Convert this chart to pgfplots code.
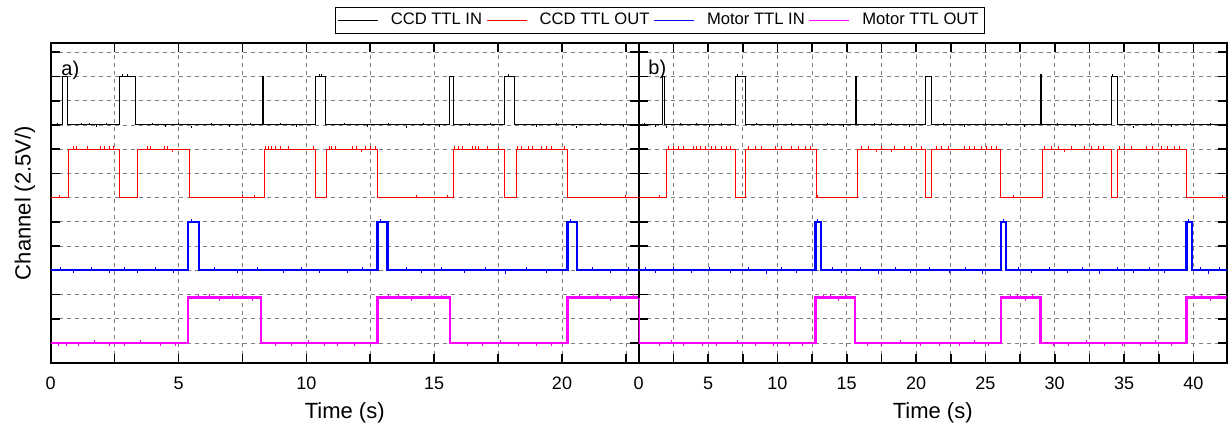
\documentclass[border=0pt]{standalone}
\usepackage{fontspec}
\setmainfont{Liberation Sans}
\usepackage{pgfplots}
\pgfplotsset{compat=1.18}
\definecolor{mg}{RGB}{255,0,255}
\definecolor{bl}{RGB}{0,0,255}
\definecolor{rd}{RGB}{255,0,0}
\begin{document}
\begin{tikzpicture}
\pgfplotsset{
  panel/.style={
    scale only axis, width=294pt, height=159.7pt,
    ymin=0.185, ymax=13.37,
    ytick={1,...,13}, yticklabels={},
    xtick distance=5, minor x tick num=1,
    grid=both,
    major grid style={gray, line width=0.4pt, dash pattern=on 2pt off 2pt},
    minor grid style={gray, line width=0.4pt, dash pattern=on 2pt off 2pt},
    tick align=inside,
    major tick length=4.5pt, minor tick length=4.5pt,
    every tick/.style={black, line width=0.8pt},
    axis line style={line width=1pt},
    ticklabel style={font=\fontsize{9}{10}\selectfont},
    /pgf/number format/assume math mode=true,
    xticklabel style={yshift=-3.5pt},
    xlabel={Time (s)},
    label style={font=\fontsize{11}{13}\selectfont},
    xlabel style={at={(axis description cs:0.5,-0.157)},anchor=center},
  },
  blk/.style={black, line width=0.5pt},
  rdl/.style={rd, line width=0.5pt},
  bll/.style={bl, line width=1.2pt},
  mgl/.style={mg, line width=1.2pt},
  spk/.style={only marks, mark=|, mark size=0.75pt, mark options={line width=0.5pt}},
}
% ---------------- left panel a) ----------------
\begin{axis}[panel, name=L, xmin=0, xmax=23,
  ylabel={Channel (2.5V/)},
  ylabel style={at={(axis description cs:-0.0437,0.5)},anchor=center},
  legend columns=4,
  legend image code/.code={\draw[#1] (0pt,0pt) -- (20pt,0pt);},
  legend style={at={(0.483,1.114)}, anchor=north west,
    font=\fontsize{8.3}{10}\selectfont, draw=black, line width=0.5pt,
    /tikz/every odd column/.append style={column sep=4.3pt},
    inner xsep=1pt, inner ysep=1pt},
]
\addlegendimage{draw=black, line width=0.5pt}\addlegendentry{CCD TTL IN}
\addlegendimage{draw=rd, line width=0.5pt}\addlegendentry{CCD TTL OUT}
\addlegendimage{draw=bl, line width=0.5pt}\addlegendentry{Motor TTL IN}
\addlegendimage{draw=mg, line width=0.5pt}\addlegendentry{Motor TTL OUT}
% Motor TTL OUT
\addplot[mgl, forget plot] coordinates {(0,1)(5.38,1)(5.38,2.87)(8.22,2.87)(8.22,1)(12.78,1)(12.78,2.87)(15.62,2.87)(15.62,1)(20.21,1)(20.21,2.87)(23,2.87)};
\addplot[mg, spk, forget plot] coordinates {(0.3,0.95)(0.6,0.93)(1.1,0.94)(1.7,1.05)(2.3,0.95)(2.9,0.93)(3.5,1.05)(4.3,0.94)(4.9,0.95)(5.8,2.93)(6.2,2.94)(6.6,2.8)(7.1,2.94)(7.5,2.93)(7.9,2.8)(8.8,0.94)(9.4,0.93)(10.1,1.05)(10.7,0.95)(11.2,0.93)(11.9,0.95)(13.2,2.93)(13.6,2.94)(14.1,2.8)(14.8,2.94)(15.3,2.93)(16.3,0.95)(16.9,0.93)(17.6,1.05)(18.3,0.93)(19.0,0.95)(19.6,0.94)(20.7,2.93)(21.4,2.94)(21.9,2.8)(22.3,2.93)(22.8,2.94)};
% Motor TTL IN
\addplot[bll, forget plot] coordinates {(0,4)(5.38,4)(5.38,6)(5.81,6)(5.81,4)(12.78,4)(12.78,6)(13.17,6)(13.17,4)(20.21,4)(20.21,6)(20.58,6)(20.58,4)(23,4)};
\addplot[bl, spk, forget plot] coordinates {(0.4,4.06)(0.9,3.93)(1.6,4.06)(2.3,3.93)(2.9,4.06)(3.4,3.94)(4.1,4.06)(4.8,3.93)(6.4,4.06)(7.3,3.94)(8.1,4.06)(9.1,3.93)(9.8,4.06)(10.5,3.94)(11.6,3.93)(12.2,4.06)(13.9,4.06)(14.5,3.93)(15.3,4.06)(16.2,3.93)(17.0,4.06)(17.8,3.92)(18.6,4.06)(19.4,3.93)(21.2,4.06)(21.9,3.93)(22.6,4.06)(5.5,6.05)(12.9,6.05)(20.35,6.05)};
% CCD TTL OUT
\addplot[rdl, forget plot] coordinates {(0,7)(0.68,7)(0.68,9)(2.68,9)(2.68,7)(3.39,7)(3.39,9)(5.41,9)(5.41,7)(8.35,7)(8.35,9)(10.36,9)(10.36,7)(10.79,7)(10.79,9)(12.79,9)(12.79,7)(15.77,7)(15.77,9)(17.75,9)(17.75,7)(18.22,7)(18.22,9)(20.21,9)(20.21,7)(23,7)};
\addplot[rd, spk, forget plot] coordinates {(0.9,9.06)(1.0,9.06)(1.45,9.06)(1.95,9.06)(2.1,9.06)(2.3,9.06)(2.45,9.06)(3.8,9.06)(3.9,9.06)(4.45,9.06)(4.55,9.06)(4.78,8.94)(8.4,9.06)(8.5,9.06)(8.65,9.06)(8.8,9.06)(9.0,9.06)(9.3,9.06)(10.27,9.06)(10.9,9.06)(11.0,9.06)(11.15,9.06)(11.8,9.06)(11.95,9.06)(12.15,8.94)(12.3,9.06)(12.5,9.06)(12.7,9.06)(15.8,9.06)(15.95,9.06)(16.1,9.06)(16.5,9.06)(16.6,9.06)(16.75,9.06)(17.1,9.06)(17.5,9.06)(18.25,9.06)(18.4,9.06)(18.7,9.06)(18.85,9.06)(19.2,9.06)(19.4,9.06)(19.6,9.06)(20.1,9.06)(0.36,7.06)(7.5,7.06)(7.99,7.06)(14.3,7.06)(15.54,7.06)(22.5,7.06)};
% CCD TTL IN
\addplot[blk, forget plot] coordinates {(0,10)(0.47,10)(0.47,12)(0.66,12)(0.66,10)(2.68,10)(2.68,12)(3.33,12)(3.33,10)(8.27,10)(8.27,12)(8.34,12)(8.34,10)(10.36,10)(10.36,12)(10.76,12)(10.76,10)(15.61,10)(15.61,12)(15.74,12)(15.74,10)(17.75,10)(17.75,12)(18.16,12)(18.16,10)(23,10)};
\addplot[black, spk, mark size=0.6pt, forget plot] coordinates {(0.25,10.04)(1.2,10.04)(1.5,10.04)(1.8,9.96)(2.2,10.04)(4.0,10.04)(4.5,9.96)(5.0,10.04)(5.51,9.92)(6.3,10.04)(7.0,9.96)(7.8,10.04)(9.0,10.04)(9.6,9.96)(11.5,10.04)(12.4,9.96)(13.2,10.04)(13.92,9.92)(14.6,10.04)(15.2,9.96)(16.4,10.04)(17.2,10.04)(19.0,9.96)(19.8,10.04)(20.56,9.92)(21.5,10.04)(22.4,9.96)(2.8,12.05)(3.0,12.05)(10.5,12.05)(10.6,12.05)(17.9,12.05)};
\node[anchor=north west, inner sep=0pt, font=\fontsize{10}{12}\selectfont] at (rel axis cs:0.0175,0.945) {a)};
\end{axis}
% ---------------- right panel b) ----------------
\begin{axis}[panel, name=R, at={(L.south east)}, anchor=south west, xmin=0, xmax=42.4]
\addplot[mgl] coordinates {(0,2.87)(0,1)(12.76,1)(12.76,2.87)(15.59,2.87)(15.59,1)(26.12,1)(26.12,2.87)(28.97,2.87)(28.97,1)(39.5,1)(39.5,2.87)(42.4,2.87)};
\addplot[mg, spk] coordinates {(1.5,0.93)(2.4,1.05)(3.2,0.94)(4.6,0.95)(5.6,0.93)(7.1,1.05)(8.4,0.94)(9.7,0.95)(10.9,0.93)(11.8,0.95)(13.3,2.93)(13.8,2.94)(14.4,2.8)(14.9,2.94)(16.5,0.95)(17.5,0.93)(18.9,1.05)(20.3,0.94)(21.7,0.95)(23.1,0.93)(24.2,1.05)(25.2,0.94)(26.8,2.93)(27.3,2.94)(27.9,2.8)(28.4,2.94)(29.9,0.95)(31.0,0.93)(32.3,1.05)(33.6,0.94)(34.9,0.95)(36.2,0.93)(37.3,1.05)(38.4,0.94)(40.1,2.93)(40.6,2.94)(41.2,2.8)(41.8,2.94)};
\addplot[bll] coordinates {(0,4)(12.76,4)(12.76,6)(13.14,6)(13.14,4)(26.12,4)(26.12,6)(26.5,6)(26.5,4)(39.5,4)(39.5,6)(39.88,6)(39.88,4)(42.4,4)};
\addplot[bl, spk] coordinates {(0.5,4.06)(1.2,3.93)(2.5,4.06)(3.8,3.94)(5.1,4.06)(6.6,3.93)(7.9,4.06)(9.2,3.92)(10.3,4.06)(11.4,3.94)(14.0,4.06)(14.6,3.93)(16.0,4.06)(17.3,3.92)(18.5,4.06)(19.6,3.94)(21.0,4.06)(22.4,3.93)(23.6,4.06)(24.8,3.92)(27.4,4.06)(28.3,3.94)(29.6,4.06)(30.9,3.93)(32.0,4.06)(33.2,3.92)(34.5,4.06)(35.7,3.94)(36.8,4.06)(37.9,3.93)(40.5,4.06)(41.1,3.92)(41.9,4.06)(12.9,6.05)(26.3,6.05)(39.65,6.05)};
\addplot[rdl] coordinates {(0,7)(1.97,7)(1.97,9)(6.96,9)(6.96,7)(7.73,7)(7.73,9)(12.79,9)(12.79,7)(15.75,7)(15.75,9)(20.71,9)(20.71,7)(21.14,7)(21.14,9)(26.11,9)(26.11,7)(29.09,7)(29.09,9)(34.08,9)(34.08,7)(34.54,7)(34.54,9)(39.5,9)(39.5,7)(42.4,7)};
\addplot[rd, spk] coordinates {(2.16,9.06)(2.52,9.06)(2.88,9.06)(3.24,9.06)(3.96,9.06)(4.2,9.06)(4.44,9.06)(4.8,9.06)(5.28,9.06)(5.52,9.06)(6.0,9.06)(6.36,9.06)(6.6,9.06)(7.92,9.06)(8.4,9.06)(8.88,9.06)(9.84,9.06)(10.32,9.06)(11.04,9.06)(11.52,9.06)(12.0,9.06)(12.36,9.06)(16.08,9.06)(16.56,9.06)(17.16,8.94)(17.52,9.06)(18.24,8.94)(18.48,9.06)(19.2,9.06)(19.68,9.06)(20.4,9.06)(21.48,9.06)(21.84,9.06)(22.32,9.06)(23.52,9.06)(23.88,9.06)(24.24,9.06)(24.72,9.06)(25.08,9.06)(25.44,9.06)(25.8,9.06)(29.28,9.06)(29.76,9.06)(30.24,9.06)(30.72,8.94)(31.2,9.06)(32.16,9.06)(32.64,9.06)(33.12,9.06)(33.48,9.06)(34.68,9.06)(35.04,9.06)(35.52,9.06)(36.6,9.06)(37.08,9.06)(37.68,9.06)(38.16,9.06)(38.64,9.06)(39.0,9.06)(1.49,7.06)(12.89,7.06)(27.04,7.06)(42.1,7.06)};
\addplot[blk] coordinates {(0,10)(1.73,10)(1.73,12)(1.87,12)(1.87,10)(6.96,10)(6.96,12)(7.68,12)(7.68,10)(15.64,10)(15.64,12)(15.72,12)(15.72,10)(20.71,10)(20.71,12)(21.11,12)(21.11,10)(28.99,10)(28.99,12.1)(29.06,12.1)(29.06,10)(34.1,10)(34.1,12)(34.5,12)(34.5,10)(42.4,10)};
\addplot[black, spk, mark size=0.6pt] coordinates {(0.4,10.04)(1.2,9.96)(2.04,9.92)(3.0,10.04)(4.2,10.04)(5.1,9.96)(6.0,10.04)(8.5,10.04)(9.7,9.96)(11.0,10.04)(12.4,9.92)(13.6,10.04)(14.8,9.96)(17.0,10.04)(18.2,10.04)(19.5,9.96)(22.0,10.04)(23.5,9.96)(25.0,10.04)(26.5,10.04)(27.8,9.96)(30.2,10.04)(31.5,9.96)(32.8,10.04)(35.7,9.92)(37.0,10.04)(38.4,9.96)(39.8,10.04)(41.2,10.04)(7.1,12.05)(34.2,12.05)};
\node[anchor=north west, inner sep=0pt, font=\fontsize{10}{12}\selectfont] at (rel axis cs:0.0158,0.948) {b)};
\end{axis}
\pgfresetboundingbox
\path[use as bounding box] ([shift={(-25.35pt,-33.15pt)}]L.south west) rectangle ([shift={(588.65pt,181.35pt)}]L.south west);
\end{tikzpicture}
\end{document}
